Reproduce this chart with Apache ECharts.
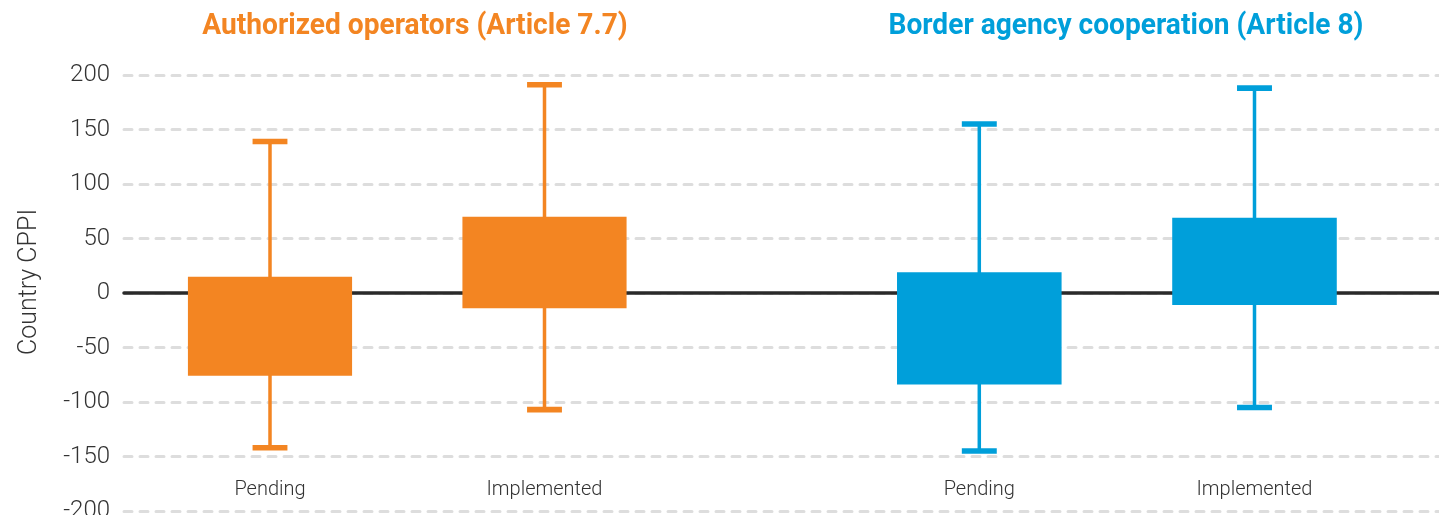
<!DOCTYPE html>
<html>
<head>
<meta charset="utf-8">
<title>CPPI by TFA measure status</title>
<script src="https://cdn.jsdelivr.net/npm/echarts@6/dist/echarts.min.js"></script>
<style>
  html, body { margin: 0; padding: 0; background: #fff; }
  #chart { width: 1439px; height: 515px; }
</style>
</head>
<body>
<div id="chart"></div>
<script>
  // categories and groups
  var categories = ['Pending', 'Implemented']
  var groupTitles = ['Authorized operators (Article 7.7)', 'Border agency cooperation (Article 8)']

  // box values (whisker low, box low, box high, whisker high)
  var authMin = [-142, -107]
  var authQ1 = [-76, -14]
  var authQ3 = [15, 70]
  var authMax = [139, 191]

  var borderMin = [-145, -105]
  var borderQ1 = [-84, -11]
  var borderQ3 = [19, 69]
  var borderMax = [155, 188]

  // y axis
  var yMin = -200
  var yMax = 200
  var yStep = 50

  var orange = '#F38522'
  var blue = '#009FDA'
  var font = 'Roboto, "Noto Sans", sans-serif'

  function toRows(mins, q1s, q3s, maxs) {
    return categories.map(function (c, i) {
      return [i, mins[i], q1s[i], q3s[i], maxs[i]]
    })
  }

  function renderBox(color) {
    return function (params, api) {
      var x = api.value(0)
      var lo = api.coord([x, api.value(1)])
      var q1 = api.coord([x, api.value(2)])
      var q3 = api.coord([x, api.value(3)])
      var hi = api.coord([x, api.value(4)])
      var band = api.size([1, 0])[0]
      var bw = band * 0.598
      var cw = band * 0.127
      var cx = lo[0]
      return {
        type: 'group',
        children: [
          {type: 'line', shape: {x1: cx, y1: hi[1], x2: cx, y2: lo[1]}, style: {stroke: color, lineWidth: 3.5}},
          {type: 'rect', shape: {x: cx - cw / 2, y: hi[1] - 2.8, width: cw, height: 5.6}, style: {fill: color}},
          {type: 'rect', shape: {x: cx - cw / 2, y: lo[1] - 2.8, width: cw, height: 5.6}, style: {fill: color}},
          {type: 'rect', shape: {x: cx - bw / 2, y: q3[1], width: bw, height: q1[1] - q3[1]}, style: {fill: color}}
        ]
      }
    }
  }

  // bold title, squeezed a little to get the narrow look of the original
  function titleText(text, cx, color) {
    return {
      type: 'text', x: cx, y: 27, scaleX: 0.97, originX: 0,
      style: {
        text: text, fill: color, align: 'center', verticalAlign: 'middle',
        font: 'bold 29px Roboto, sans-serif'
      }
    }
  }

  var hiddenY = function (idx) {
    return {type: 'value', gridIndex: idx, min: yMin, max: yMax, interval: yStep, show: false}
  }
  var catX = function (idx) {
    return {
      type: 'category', gridIndex: idx, data: categories,
      axisLine: {show: false}, axisTick: {show: false}, splitLine: {show: false},
      offset: -31,
      axisLabel: {color: '#333', fontFamily: font, fontWeight: 300, fontSize: 20, margin: 0}
    }
  }

  var chart = echarts.init(document.getElementById('chart'), null, {renderer: 'canvas'})

  chart.setOption({
    animation: false,
    graphic: [
      titleText(groupTitles[0], 415, orange),
      titleText(groupTitles[1], 1126, blue)
    ],
    grid: [
      {left: 124, right: 0, top: 75, height: 436, outerBoundsMode: 'none'},
      {left: 132.75, width: 549, top: 75, height: 436, outerBoundsMode: 'none'},
      {left: 841.7, width: 550.4, top: 75, height: 436, outerBoundsMode: 'none'}
    ],
    xAxis: [
      {
        type: 'value', gridIndex: 0, min: 0, max: 1,
        axisLabel: {show: false}, axisTick: {show: false}, splitLine: {show: false},
        axisLine: {show: true, onZero: true, lineStyle: {color: '#2a2a2a', width: 3.5}}
      },
      catX(1),
      catX(2)
    ],
    yAxis: [
      {
        type: 'value', gridIndex: 0, min: yMin, max: yMax, interval: yStep,
        name: 'Country CPPI', nameLocation: 'middle', nameRotate: 90, nameGap: 82,
        nameTextStyle: {color: '#333', fontFamily: font, fontWeight: 300, fontSize: 25, padding: [0, 0, 0, 22]},
        axisLine: {show: false}, axisTick: {show: false},
        axisLabel: {color: '#333', fontFamily: font, fontWeight: 300, fontSize: 24, margin: 14},
        splitLine: {show: true, lineStyle: {color: '#dddddd', width: 3, type: [8, 8], cap: 'round'}}
      },
      hiddenY(1),
      hiddenY(2)
    ],
    series: [
      {
        name: groupTitles[0], type: 'custom', xAxisIndex: 1, yAxisIndex: 1,
        renderItem: renderBox(orange),
        encode: {x: 0, y: [1, 2, 3, 4]},
        data: toRows(authMin, authQ1, authQ3, authMax)
      },
      {
        name: groupTitles[1], type: 'custom', xAxisIndex: 2, yAxisIndex: 2,
        renderItem: renderBox(blue),
        encode: {x: 0, y: [1, 2, 3, 4]},
        data: toRows(borderMin, borderQ1, borderQ3, borderMax)
      }
    ]
  })
</script>
</body>
</html>
